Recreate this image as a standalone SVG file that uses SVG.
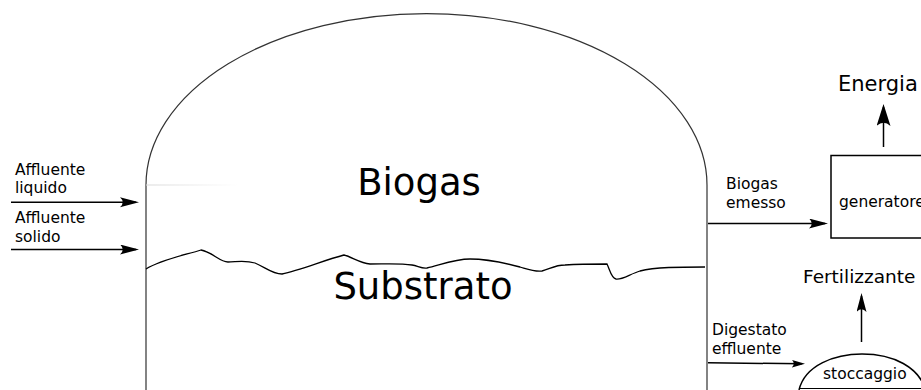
<svg xmlns="http://www.w3.org/2000/svg" width="921" height="390" viewBox="0 0 921 390">
<style>
text{font-family:"DejaVu Sans",Verdana,sans-serif;fill:#000}
.lbl{font-size:15.5px}
.big{font-size:37px}
.out{font-size:20px}
.conn{stroke:#000;stroke-width:1.5;fill:none}
.thin{stroke:#333;stroke-width:1.2;fill:none}
</style>
<defs>
<marker id="ah" markerWidth="22" markerHeight="12" refX="16" refY="5" orient="auto" markerUnits="userSpaceOnUse">
<path d="M0,0 L19,5 L0,10 Q5.5,5 0,0 Z" fill="#000"/>
</marker>
<marker id="ahb" markerWidth="24" markerHeight="16" refX="19" refY="7" orient="auto" markerUnits="userSpaceOnUse">
<path d="M0,0 L22,7 L0,14 Q6.5,7 0,0 Z" fill="#000"/>
</marker>
<marker id="ahs" markerWidth="16" markerHeight="10" refX="10" refY="4" orient="auto" markerUnits="userSpaceOnUse">
<path d="M0,0.3 L13,4 L0,7.7 Q3.5,4 0,0.3 Z" fill="#000"/>
</marker>
<linearGradient id="fade" x1="0" x2="1" y1="0" y2="0">
<stop offset="0" stop-color="#d8d8d8"/>
<stop offset="1" stop-color="#d8d8d8" stop-opacity="0"/>
</linearGradient>
</defs>

<g id="digester">
<path class="thin" d="M146,390 L146,185 A280.5,171.5 0 0 1 707,185 L707,390"/>
<rect x="146" y="184.5" width="92" height="1" fill="url(#fade)"/>
<path fill="none" stroke="#000" stroke-width="1.3" d="M146,269 C160,260 185,255 201,250 C212,252 220,262 228,262 C236,262 245,260 255,263 C265,267 272,274 282,274 C300,270 325,260 344,255 C352,257 360,263 370,264 C385,264 400,263 412,265 C418,266 422,269 427,268 C440,265 455,259 470,259 C485,259 505,263 520,267 C530,270 535,272 542,271 C550,269 555,265 565,265 C580,264 595,264 607,264 C610,270 611,278 616,279 C622,280 630,274 640,271 C655,267 680,267 705,267"/>
<text class="big" x="419" y="195" text-anchor="middle">Biogas</text>
<text class="big" x="423" y="299" text-anchor="middle">Substrato</text>
</g>

<g id="generatore">
<rect x="831" y="155.5" width="120" height="82.5" fill="none" stroke="#000" stroke-width="1.5"/>
<text class="lbl" x="839" y="207">generatore</text>
</g>

<g id="stoccaggio">
<path fill="none" stroke="#000" stroke-width="1.5" d="M799,390 C805,365 835,354 862,354 C895,354 918,368 925,388"/>
<line x1="799" y1="388.5" x2="921" y2="388.5" stroke="#000" stroke-width="1.2"/>
<text class="lbl" x="823" y="378.5">stoccaggio</text>
</g>

<g id="energia">
<text class="out" x="838" y="90.5" style="font-size:21px">Energia</text>
</g>

<g id="fertilizzante">
<text class="out" x="803" y="283" style="font-size:18.5px">Fertilizzante</text>
</g>

<g id="labels">
<text class="lbl" x="15" y="175">Affluente</text>
<text class="lbl" x="15" y="192.5">liquido</text>
<text class="lbl" x="15" y="222.5">Affluente</text>
<text class="lbl" x="15" y="241.5">solido</text>
<text class="lbl" x="726" y="189">Biogas</text>
<text class="lbl" x="726" y="208">emesso</text>
<text class="lbl" x="712" y="335">Digestato</text>
<text class="lbl" x="712" y="353.5">effluente</text>
</g>

<g id="connectors">
<line class="conn" x1="11" y1="202.3" x2="136" y2="202.3" marker-end="url(#ah)"/>
<line class="conn" x1="11" y1="249.5" x2="136" y2="249.5" marker-end="url(#ah)"/>
<line class="conn" x1="708" y1="223.5" x2="825" y2="223.5" marker-end="url(#ah)"/>
<line class="conn" x1="883.5" y1="147" x2="883.5" y2="107" marker-end="url(#ahb)"/>
<line class="conn" x1="861.5" y1="342" x2="861.5" y2="296" marker-end="url(#ah)"/>
<line class="conn" x1="708" y1="362.8" x2="802" y2="363.8" marker-end="url(#ahs)"/>
</g>
</svg>
